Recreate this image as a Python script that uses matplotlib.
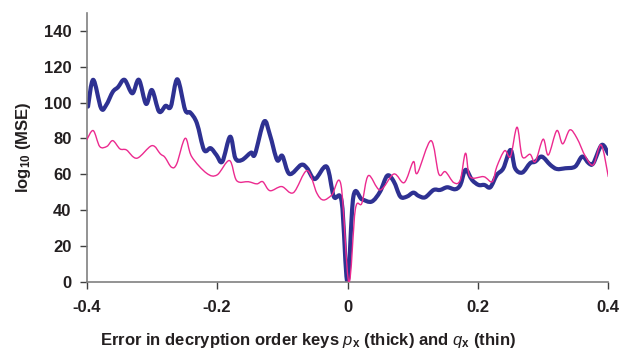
import matplotlib
matplotlib.use("Agg")
import matplotlib.pyplot as plt
from matplotlib.path import Path
from matplotlib.patches import PathPatch
import numpy as np

# Key error (x) and log10 MSE for p_x (thick) and q_x (thin)
thick_x = [-0.398, -0.390, -0.378, -0.370, -0.360, -0.352, -0.342, -0.330, -0.320, -0.309,
           -0.300, -0.289, -0.279, -0.271, -0.261, -0.249, -0.241, -0.231, -0.220, -0.210,
           -0.201, -0.192, -0.180, -0.172, -0.162, -0.148, -0.142, -0.128, -0.119, -0.108,
           -0.100, -0.089, -0.071, -0.062, -0.050, -0.032, -0.021, -0.009, 0.0, 0.009,
           0.022, 0.037, 0.050, 0.061, 0.071, 0.081, 0.091, 0.101, 0.109, 0.119,
           0.132, 0.142, 0.153, 0.165, 0.173, 0.181, 0.191, 0.201, 0.210, 0.219,
           0.229, 0.239, 0.250, 0.257, 0.268, 0.280, 0.288, 0.298, 0.311, 0.321,
           0.334, 0.349, 0.360, 0.370, 0.377, 0.390, 0.400]
thick_y = [97.8, 112.7, 96.9, 98.7, 106, 108.6, 112.7, 105.2, 112.7, 99.3,
           107, 95, 98.2, 97.8, 113, 95.9, 94.4, 88.5, 73.6, 74.6,
           70.8, 67.1, 81, 69, 68, 72.1, 71.2, 89.4, 82, 68,
           70.3, 60.2, 65.3, 63.4, 57.4, 64.3, 47.6, 44.8, 0, 47.6,
           46.1, 44.8, 50.4, 59.3, 56, 47.6, 47.6, 49.8, 48, 47.2,
           51.3, 51.3, 52.8, 51.7, 54.1, 62.5, 56.9, 54.1, 54.1, 52.8,
           59.7, 63.4, 73.6, 63.4, 61, 66.2, 67.1, 69.9, 65.3, 63,
           63.4, 64.3, 69.9, 66.2, 66.2, 76.4, 71.4]

thin_x = [-0.400, -0.390, -0.380, -0.369, -0.360, -0.349, -0.339, -0.323, -0.300, -0.287,
          -0.280, -0.270, -0.262, -0.249, -0.239, -0.216, -0.200, -0.181, -0.170, -0.152,
          -0.139, -0.130, -0.119, -0.101, -0.083, -0.062, -0.047, -0.037, -0.024, -0.010,
          0.002, 0.012, 0.022, 0.032, 0.050, 0.071, 0.087, 0.101, 0.107, 0.128,
          0.140, 0.150, 0.163, 0.173, 0.181, 0.188, 0.209, 0.222, 0.229, 0.241,
          0.250, 0.260, 0.268, 0.280, 0.288, 0.300, 0.308, 0.321, 0.330, 0.341,
          0.352, 0.365, 0.377, 0.389, 0.400]
thin_y = [79.2, 84.4, 75.5, 75.6, 78.8, 74.2, 73.6, 69, 76, 71.4,
          69.5, 64, 65.8, 80.1, 69.9, 60.6, 59.7, 67.7, 56.5, 55.9,
          54.7, 55.9, 50.9, 53.2, 49.8, 62.1, 49.5, 45.7, 48.5, 54.1,
          0, 40.5, 43.9, 59.3, 51.3, 60.2, 55.4, 67.1, 60.6, 78.8,
          60.2, 61.5, 55.4, 56.9, 71.8, 58.7, 58.7, 55.9, 64.3, 73.2,
          69.9, 86.3, 69.9, 71.2, 67.1, 79.6, 70.8, 84.4, 77, 84.8,
          80.1, 69.9, 65.3, 76.4, 58.7]

x_ticks = [-0.4, -0.2, 0, 0.2, 0.4]
x_ticklabels = ["-0.4", "-0.2", "0", "0.2", "0.4"]
y_ticks = [0, 20, 40, 60, 80, 100, 120, 140]

plt.rcParams["font.family"] = ["Liberation Sans", "DejaVu Sans"]
plt.rcParams["mathtext.fontset"] = "custom"
plt.rcParams["mathtext.rm"] = "Liberation Sans:bold"
plt.rcParams["mathtext.it"] = "Liberation Sans:italic"
plt.rcParams["mathtext.bf"] = "Liberation Sans:bold"


def smooth_path(xs, ys):
    """Smoothed curve through the points (Catmull-Rom as cubic Beziers)."""
    p = np.column_stack([xs, ys]).astype(float)
    ext = np.vstack([p[0], p, p[-1]])
    verts = [tuple(p[0])]
    codes = [Path.MOVETO]
    for i in range(1, len(ext) - 2):
        p0, p1, p2, p3 = ext[i - 1], ext[i], ext[i + 1], ext[i + 2]
        c1 = p1 + (p2 - p0) / 6.0
        c2 = p2 - (p3 - p1) / 6.0
        verts += [tuple(c1), tuple(c2), tuple(p2)]
        codes += [Path.CURVE4] * 3
    return Path(verts, codes)


fig = plt.figure(figsize=(6.22, 3.49), dpi=100)
ax = fig.add_axes([0.1394, 0.192, 0.8386, 0.771])

ax.add_patch(PathPatch(smooth_path(thick_x, thick_y), facecolor="none",
                       edgecolor="#2e3192", linewidth=3.0, capstyle="round",
                       joinstyle="round", zorder=2))
ax.add_patch(PathPatch(smooth_path(thin_x, thin_y), facecolor="none",
                       edgecolor="#ec2a8f", linewidth=1.0, capstyle="round",
                       joinstyle="round", zorder=3))

ax.set_xlim(-0.4, 0.4)
ax.set_ylim(0, 150)
ax.set_xticks(x_ticks)
ax.set_xticklabels(x_ticklabels)
ax.set_yticks(y_ticks)

for side in ("top", "right"):
    ax.spines[side].set_visible(False)
for side in ("left", "bottom"):
    ax.spines[side].set_color("#808080")
    ax.spines[side].set_linewidth(1.2)

ax.tick_params(axis="both", direction="out", length=5, width=1.0, color="#404040",
               labelsize=12, labelcolor="#231f20")
ax.tick_params(axis="x", pad=8)
ax.tick_params(axis="y", pad=6)
for lbl in ax.get_xticklabels() + ax.get_yticklabels():
    lbl.set_fontweight("bold")

ax.set_xlabel(r"Error in decryption order keys $p_{\mathbf{x}}$ (thick) and $q_{\mathbf{x}}$ (thin)",
              fontsize=12, fontweight="bold", color="#231f20", labelpad=10)
ax.xaxis.set_label_coords(0.425, -0.183)
ax.xaxis.label.set_verticalalignment("top")
ax.set_ylabel(r"log$_{\mathbf{10}}$ (MSE)", fontsize=12, fontweight="bold",
              color="#231f20", labelpad=8)

fig.savefig("out.png", dpi=100)
